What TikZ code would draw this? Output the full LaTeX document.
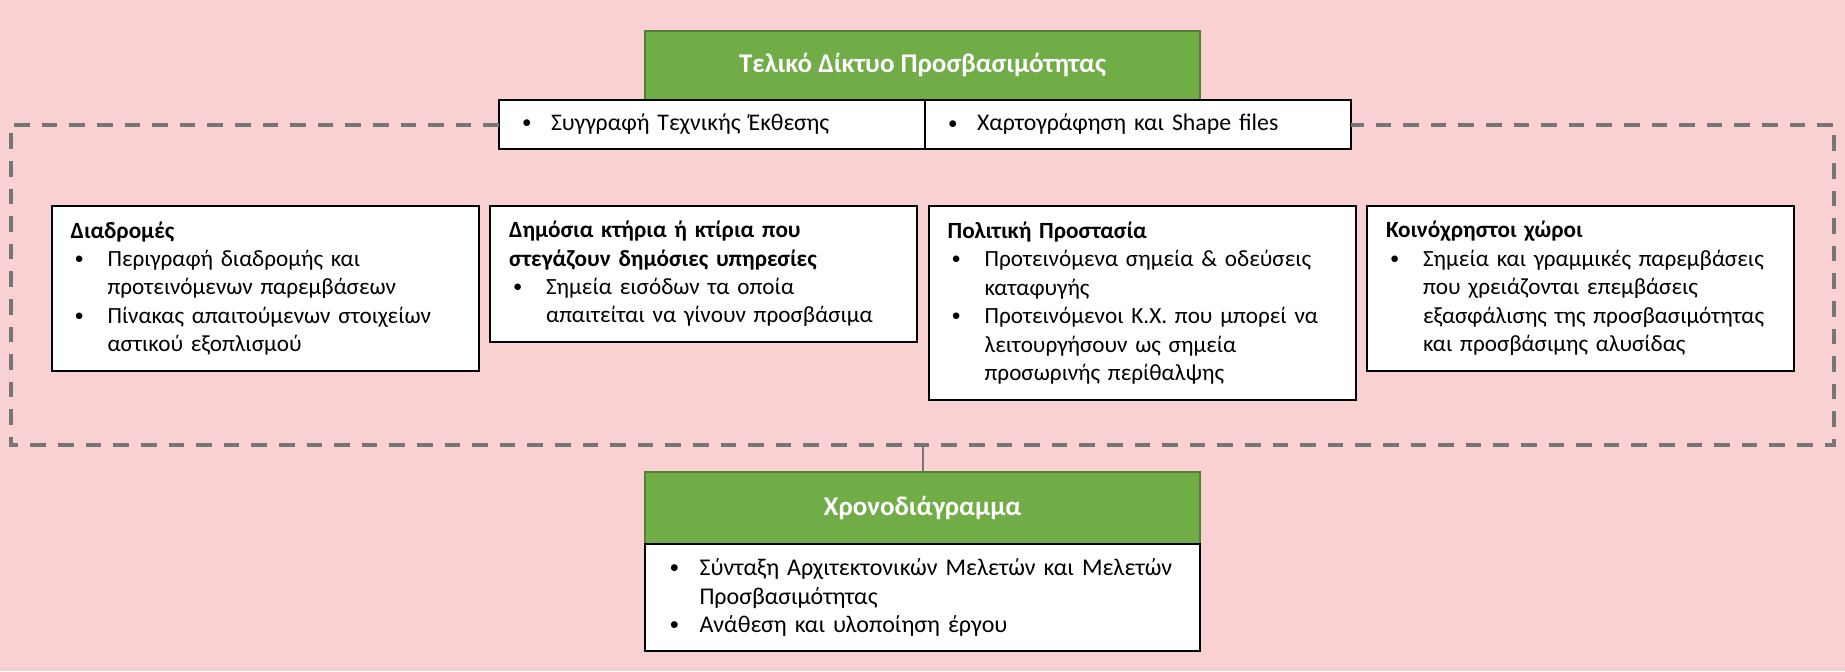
\documentclass[tikz,border=0pt]{standalone}
\usepackage{fontspec}
\usepackage{graphicx}
\setmainfont{Carlito}
\usetikzlibrary{positioning}
\definecolor{bgpink}{RGB}{249,209,210}
\definecolor{hdgreen}{RGB}{112,173,71}
\definecolor{hdborder}{RGB}{82,128,52}
\definecolor{dashgray}{RGB}{118,118,118}

%% bullet and continuation indent for the lists
\newcommand{\bpt}[1][16.5pt]{\hspace*{2pt}\makebox[#1][l]{\raisebox{0.08em}{\scalebox{0.8}{\textbullet}}}}
\newcommand{\bind}[1][18.5pt]{\hspace*{#1}}

\begin{document}
\begin{tikzpicture}[x=0.5pt,y=-0.5pt,
       every node/.style={font=\fontsize{11.6}{14.2}\selectfont, outer sep=0pt},
       headbox/.style={draw=hdborder, line width=1pt, fill=hdgreen, text=white,
                       font=\fontsize{13.5}{16}\selectfont\bfseries,
                       minimum width=277.5pt, minimum height=#1, inner sep=0pt},
       topbox/.style={draw=black, line width=1pt, fill=white, align=left,
                      font=\fontsize{11.9}{14.2}\selectfont,
                      inner xsep=9.5pt, inner ysep=0pt, text width=194pt,
                      minimum height=24.5pt},
       itembox/.style={draw=black, line width=1pt, fill=white, align=left,
                       anchor=north west, inner xsep=9.5pt, inner ysep=0pt,
                       text width=194.5pt, minimum height=#1},
       frame/.style={dashgray, line width=2pt, dash pattern=on 7.8pt off 6pt},
       link/.style={draw=dashgray, line width=1pt}]

	%% page and background
	\fill[bgpink] (0,0) rectangle (1845,671);
	\useasboundingbox (0,0) rectangle (1845,671);

	%% final network on top
	\node [headbox=34.5pt, anchor=north west] (final) at (645,31)
		{Τελικό Δίκτυο Προσβασιμότητας};
	\node [topbox, anchor=north west] (report) at (499,100)
		{\bpt[14.5pt]Συγγραφή Τεχνικής Έκθεσης};
	\node [topbox, right=0pt of report] (maps)
		{\bpt[14.5pt]Χαρτογράφηση και Shape files};

	%% dashed frame round the four fields
	\coordinate (fbl) at (11,445);
	\coordinate (fbr) at (1834,445);
	\draw[frame] (report.west) -| (fbl) -- (fbr) |- (maps.east);

	%% the four fields
	\node [itembox=82.5pt] (routes) at (51.6,206)
		{\textbf{Διαδρομές}\\
		 \bpt Περιγραφή διαδρομής και\\
		 \bind προτεινόμενων παρεμβάσεων\\
		 \bpt Πίνακας απαιτούμενων στοιχείων\\
		 \bind αστικού εξοπλισμού};
	\node [itembox=68pt, right=5.75pt of routes.north east, anchor=north west] (public)
		{\textbf{Δημόσια κτήρια ή κτίρια που}\\
		 \textbf{στεγάζουν δημόσιες υπηρεσίες}\\
		 \bpt Σημεία εισόδων τα οποία\\
		 \bind απαιτείται να γίνουν προσβάσιμα};
	\node [itembox=97pt, right=5.75pt of public.north east, anchor=north west] (civil)
		{\textbf{Πολιτική Προστασία}\\
		 \bpt Προτεινόμενα σημεία \& οδεύσεις\\
		 \bind καταφυγής\\
		 \bpt Προτεινόμενοι Κ.Χ. που μπορεί να\\
		 \bind λειτουργήσουν ως σημεία\\
		 \bind προσωρινής περίθαλψης};
	\node [itembox=82.5pt, right=5.75pt of civil.north east, anchor=north west] (common)
		{\textbf{Κοινόχρηστοι χώροι}\\
		 \bpt Σημεία και γραμμικές παρεμβάσεις\\
		 \bind που χρειάζονται επεμβάσεις\\
		 \bind εξασφάλισης της προσβασιμότητας\\
		 \bind και προσβάσιμης αλυσίδας};

	%% schedule below
	\node [headbox=36pt, anchor=north west] (sched) at (645,472) {Χρονοδιάγραμμα};
	\node [topbox, font=\fontsize{12}{14.2}\selectfont, text width=257pt,
	       inner xsep=10.25pt, minimum height=53.5pt, below=0pt of sched] (steps)
		{\bpt[15pt]Σύνταξη Αρχιτεκτονικών Μελετών και Μελετών\\
		 \bind[17pt]Προσβασιμότητας\\
		 \bpt[15pt]Ανάθεση και υλοποίηση έργου};
	\draw[link] (sched.north) -- (sched.north |- fbl);
\end{tikzpicture}
\end{document}
